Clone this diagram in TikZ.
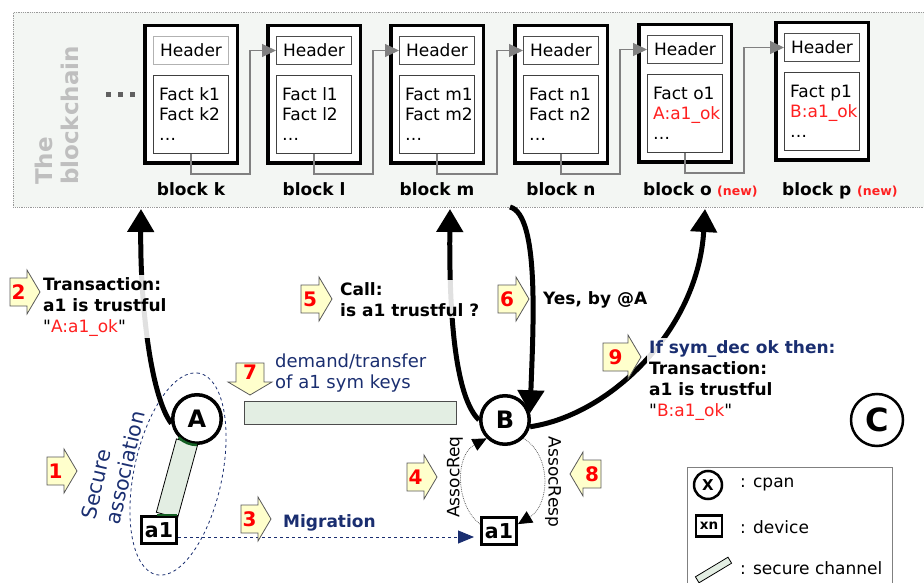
\documentclass[tikz,border=0pt]{standalone}
\usepackage{fontspec}
\setmainfont{DejaVu Sans}
\newfontfamily\qfont{DejaVu Sans}
\usetikzlibrary{arrows.meta,calc,shapes.geometric}
\definecolor{navy}{RGB}{26,46,112}
\definecolor{myred}{RGB}{255,32,32}
\definecolor{panelfill}{RGB}{243,246,243}
\definecolor{badgefill}{RGB}{255,255,204}
\definecolor{chanfill}{RGB}{227,238,227}
\definecolor{chanend}{RGB}{20,95,35}
\newcommand\ftn{\fontsize{17}{20}\selectfont}
\newcommand\ftd{\fontsize{18}{21}\selectfont}
\newcommand\ftb{\fontsize{17}{21}\selectfont\bfseries}
\newcommand\qq{{\qfont\mdseries\symbol{34}}}
\newcommand\mkblock[6]{%
  \node[blk] (#1) at (#2+48,#3+70.5) {};
  \node[hdr,draw=#6] (#1h) at (#2+48,#3+26.5) {Header};
  \node[fct] (#1f) at (#2+48,#3+90.5) {};
  \node[ftxt] (#1a) at (#2+16,#3+77) {#4};
  \node[ftxt] (#1b) at (#2+16,#3+97) {#5};
  \node[ftxt] (#1c) at (#2+16,#3+117) {\ldots};
}
\newcommand\stepbadge[6]{%
  \begin{scope}[shift={(#2,#3)},rotate=#4]
    \draw[badge] (0,-14) -- (#6,-14) -- (#6,-22) -- (#6+13,0) -- (#6,22) -- (#6,14) -- (0,14) -- cycle;
    \node[badgenum] (#1) at (#6/2,0) {#5};
  \end{scope}}
\begin{document}
\begin{tikzpicture}[x=1pt,y=-1pt,
  blk/.style={draw, line width=3.5pt, fill=white, minimum width=92.5pt, minimum height=137.5pt, inner sep=0pt},
  hdr/.style={line width=1pt, fill=white, minimum width=75pt, minimum height=28pt, inner sep=0pt, font=\ftn},
  fct/.style={draw=black!75, line width=1pt, fill=white, minimum width=75pt, minimum height=78pt, inner sep=0pt},
  ftxt/.style={anchor=base west, inner sep=0pt, font=\ftn},
  blab/.style={anchor=base, inner sep=0pt, font=\ftb},
  newlab/.style={anchor=base west, inner sep=0pt, font=\fontsize{12.5}{14}\selectfont\bfseries, text=myred},
  chainlink/.style={draw=gray, line width=1.3pt, -{Triangle[length=14pt,width=13pt]}},
  cpan/.style={circle, draw, line width=3.5pt, fill=white, minimum size=48.5pt, inner sep=0pt, font=\fontsize{24}{24}\selectfont\bfseries},
  dev/.style={draw, line width=3pt, fill=white, minimum width=35pt, minimum height=27pt, inner sep=0pt, font=\fontsize{20.5}{20.5}\selectfont\bfseries},
  chan/.style={draw, line width=0.8pt, fill=chanfill, inner sep=0pt},
  bigarrow/.style={line width=5pt, -{Triangle[length=23pt,width=26pt]}},
  assocarrow/.style={densely dotted, draw=gray!80!black, line width=0.8pt, -{Triangle[length=14pt,width=13pt,color=black]}},
  migarrow/.style={dashed, draw=navy, line width=0.9pt, -{Triangle[length=16pt,width=13pt,color=navy]}},
  badge/.style={draw=gray!70!black, fill=badgefill, line width=0.8pt},
  badgenum/.style={inner sep=0pt, text=red, font=\fontsize{20}{20}\selectfont\bfseries},
  lbl/.style={anchor=north west, align=left, font=\ftb, fill=white, fill opacity=.88, text opacity=1, inner xsep=2pt, inner ysep=2pt},
  txt/.style={inner sep=0pt, font=\ftn}]
\useasboundingbox (0,0) rectangle (924,583);
\clip (0,0) rectangle (924,583);

% blockchain panel
\node[draw=gray!80, densely dotted, fill=panelfill, line width=.8pt, minimum width=922pt, minimum height=195pt, anchor=north west, inner sep=0pt] (chain) at (13,12) {};
\node[rotate=90, anchor=base west, inner sep=0pt, font=\fontsize{23}{23}\selectfont\bfseries, text=gray!50] (the) at (52,185) {The};
\node[rotate=90, anchor=base west, inner sep=0pt, font=\fontsize{23}{23}\selectfont\bfseries, text=gray!50] (bch) at (78,185) {blockchain};

\fill[gray!75!black] (105.5,92.5) rectangle ++(5,5);
\fill[gray!75!black] (117.5,92.5) rectangle ++(5,5);
\fill[gray!75!black] (129.5,92.5) rectangle ++(5,5);

\mkblock{bk}{143}{24}{Fact k1}{Fact k2}{gray!60}
\mkblock{bl}{266}{24}{Fact l1}{Fact l2}{black!70}
\mkblock{bm}{389}{24}{Fact m1}{Fact m2}{black!70}
\mkblock{bn}{513}{24}{Fact n1}{Fact n2}{black!70}
\mkblock{bo}{637}{23}{Fact o1}{\textcolor{myred}{A:a1\_ok}}{black!70}
\mkblock{bp}{774}{21}{Fact p1}{\textcolor{myred}{B:a1\_ok}}{black!70}

\node[blab] (bkl) at (191,196) {block k};
\node[blab] (bll) at (314,196) {block l};
\node[blab] (bml) at (437,196) {block m};
\node[blab] (bnl) at (561,196) {block n};
\node[blab, anchor=base west] (bol) at (643,196) {block o};
\node[newlab] (bon) at (717,196) {(new)};
\node[blab, anchor=base west] (bpl) at (782,196) {block p};
\node[newlab] (bpn) at (857,196) {(new)};

\draw[chainlink] (bkf.south) |- (250,174) |- (blh.west);
\draw[chainlink] (blf.south) |- (373,174) |- (bmh.west);
\draw[chainlink] (bmf.south) |- (497,174) |- (bnh.west);
\draw[chainlink] (bnf.south) |- (620,174) |- (boh.west);
\draw[chainlink] (bof.south) |- (744,173) |- (bph.west);

% lower part
\node[draw=black!70, line width=1pt, fill=chanfill, minimum width=212pt, minimum height=23pt, inner sep=0pt] (sk) at (350,412.5) {};
\node[chan, rotate=74.7, minimum width=76pt, minimum height=22pt] (ch) at (177,478.5) {};
\node[draw=navy, dashed, line width=.8pt, ellipse, minimum width=206pt, minimum height=88pt, rotate=78, inner sep=0pt] (assoc) at (178,474) {};

\node[cpan] (A) at (197,419) {A};
\node[cpan] (B) at (505,420) {B};
\node[cpan, line width=2.5pt, minimum size=52pt, font=\fontsize{32}{32}\selectfont\bfseries] (C) at (877,420) {C};
\node[dev] (a1A) at (159,530) {a1};
\node[dev] (a1B) at (499,531) {a1};

\draw[chanend, line width=2.5pt] (A.225) arc[start angle=225, end angle=270, radius=26pt];
\draw[chanend, line width=2.5pt] ($(a1A.north)+(-2,0)$) -- ($(a1A.north east)+(-1,0)$);

\coordinate (tk) at (141,209);
\coordinate (tm) at (450,209);
\coordinate (sm) at (510,207);
\coordinate (to) at (705,209);
\draw[bigarrow] (A.190) .. controls (150,395) and (140,300) .. (tk);
\draw[bigarrow] (B.180) .. controls (456,398) and (449,320) .. (tm);
\draw[bigarrow] (sm) .. controls (540,215) and (533,330) .. (B.15);
\draw[bigarrow] (B.-15) .. controls (610,415) and (698,330) .. (to);

\draw[assocarrow] (a1B.160) .. controls (455,505) and (455,455) .. (B.225);
\draw[assocarrow] (B.-45) .. controls (552,455) and (550,505) .. (a1B.20);
\node[txt, rotate=90] (rq) at (455,477) {AssocReq};
\node[txt, rotate=-90] (rp) at (553,482) {AssocResp};

\draw[migarrow] ($(a1A.east)+(0,7)$) -- ($(a1B.west)+(-6,6)$);
\node[anchor=base west, inner sep=0pt, font=\ftb, text=navy] (t3) at (283,527) {Migration};

\node[anchor=north west, align=left, inner sep=0pt, font=\ftd, text=navy] (t7) at (275,354) {demand/transfer\\of a1 sym keys};
\node[rotate=77, align=left, inner sep=0pt, font=\fontsize{20.5}{25}\selectfont, text=navy] (t1) at (113,465) {Secure\\association};

\node[lbl] (t2) at (41,275) {Transaction:\\a1 is trustful\\{\mdseries\qq\textcolor{myred}{A:a1\_ok}\qq}};
\node[lbl] (t5) at (338,280) {Call:\\is a1 trustful ?};
\node[lbl, fill=none] (t6) at (541,289) {Yes, by @A};
\node[lbl] (t9) at (647,338) {\textcolor{navy}{If sym\_dec ok then:}\\Transaction:\\a1 is trustful\\{\mdseries\qq\textcolor{myred}{B:a1\_ok}\qq}};

% step badges
\stepbadge{s1}{47}{471}{0}{1}{17}
\stepbadge{s2}{10}{292}{0}{2}{17}
\stepbadge{s3}{241}{519}{0}{3}{17}
\stepbadge{s4}{407}{477}{0}{4}{17}
\stepbadge{s5}{301}{299}{0}{5}{18}
\stepbadge{s6}{498}{299}{0}{6}{18}
\stepbadge{s7}{250}{363}{-90}{7}{19}
\stepbadge{s8}{601}{474}{180}{8}{18}
\stepbadge{s9}{603}{357}{0}{9}{25}

% legend
\node[draw=gray, line width=.8pt, minimum width=205pt, minimum height=130pt, anchor=north west, inner sep=0pt] (leg) at (687,467) {};
\node[cpan, line width=2.5pt, minimum size=28pt, font=\fontsize{15}{15}\selectfont\bfseries] (lx) at (708,485) {X};
\node[txt, anchor=west] (lxt) at (740,485) {: cpan};
\node[dev, line width=2.5pt, minimum width=26pt, minimum height=21pt, font=\fontsize{13.5}{13.5}\selectfont\bfseries] (ld) at (709,526) {xn};
\node[txt, anchor=west] (ldt) at (740,527) {: device};
\node[chan, rotate=31, minimum width=38pt, minimum height=7pt] (lc) at (713.5,570) {};
\node[txt, anchor=west] (lct) at (740,568) {: secure channel};
\end{tikzpicture}
\end{document}
